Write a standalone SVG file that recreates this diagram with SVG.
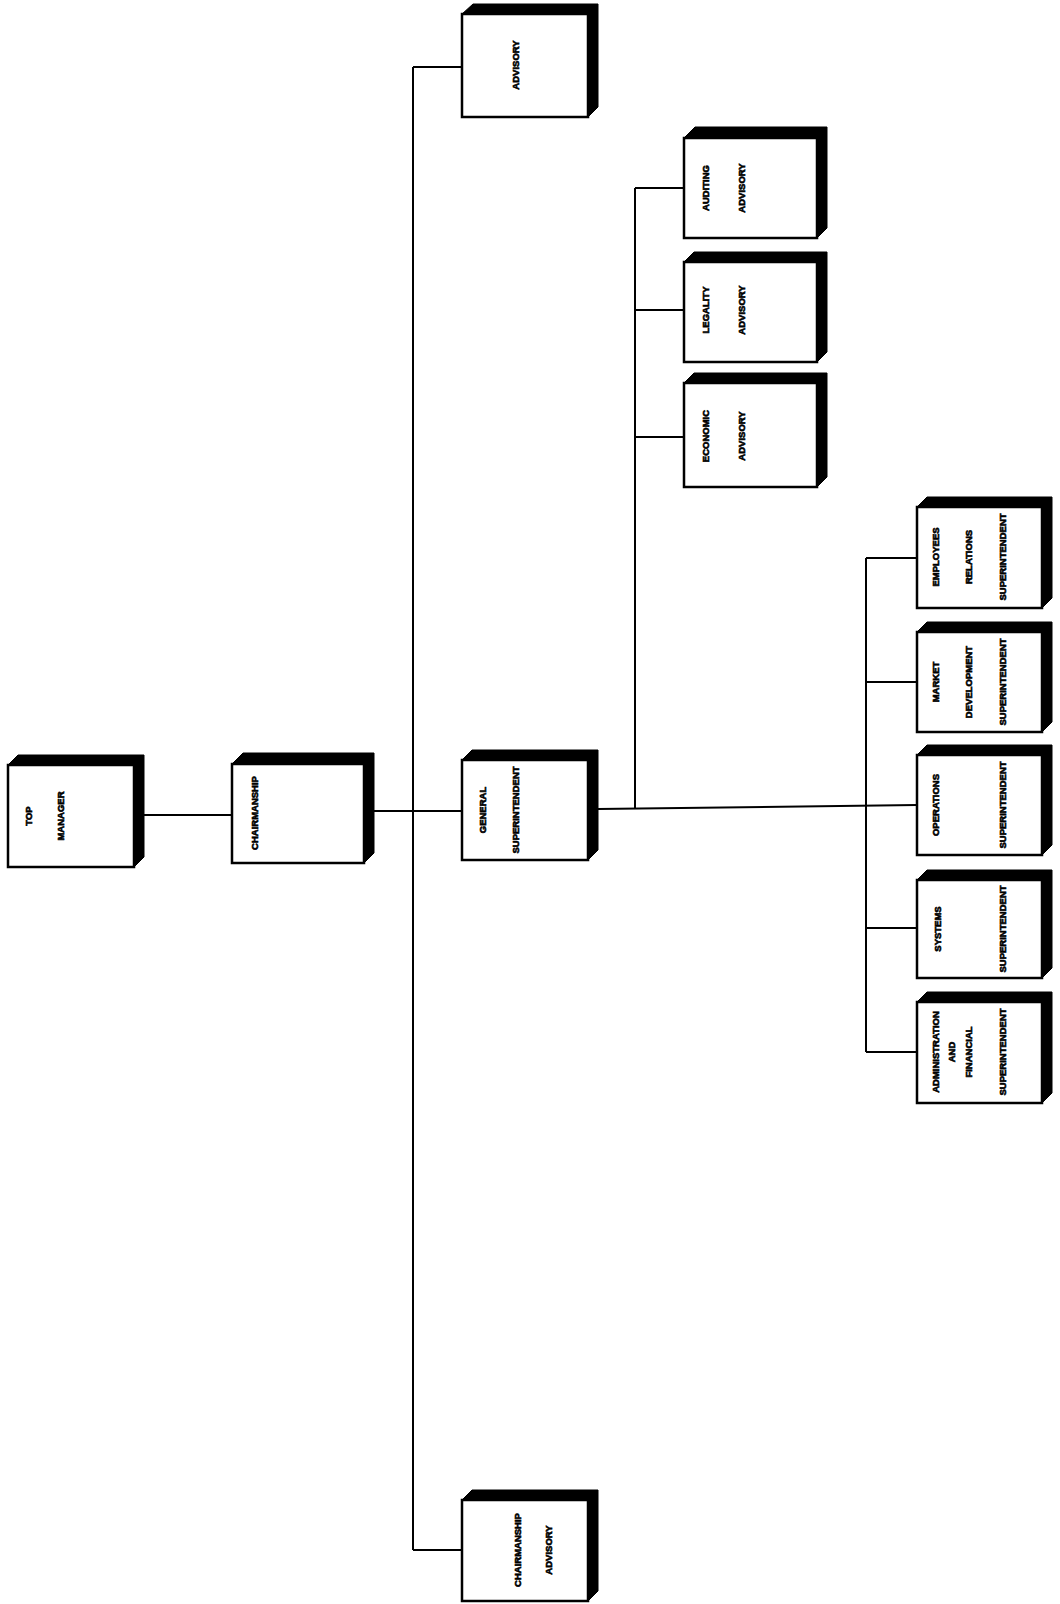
<svg xmlns="http://www.w3.org/2000/svg" width="1060" height="1604" viewBox="0 0 1060 1604">
<style>
.face{fill:#fff;stroke:#000;stroke-width:2.5}
.band{fill:#000;stroke:#000;stroke-width:1}
.t{font-family:"Liberation Sans",Arial,sans-serif;font-weight:bold;font-size:9.5px;fill:#000;stroke:#000;stroke-width:0.6;text-anchor:middle;dominant-baseline:central}
.c{stroke:#000;stroke-width:2;fill:none}
</style>
<rect width="1060" height="1604" fill="#fff"/>
<g id="connectors">
<line class="c" x1="144" y1="815" x2="232" y2="815"/>
<line class="c" x1="374" y1="811" x2="462" y2="811"/>
<line class="c" x1="413" y1="67" x2="413" y2="1550"/>
<line class="c" x1="413" y1="67" x2="462" y2="67"/>
<line class="c" x1="413" y1="1550" x2="462" y2="1550"/>
<line class="c" x1="598" y1="809" x2="917" y2="805"/>
<line class="c" x1="635" y1="188" x2="635" y2="808"/>
<line class="c" x1="635" y1="188" x2="684" y2="188"/>
<line class="c" x1="635" y1="310" x2="684" y2="310"/>
<line class="c" x1="635" y1="437" x2="684" y2="437"/>
<line class="c" x1="866" y1="558" x2="866" y2="1052"/>
<line class="c" x1="866" y1="558" x2="917" y2="558"/>
<line class="c" x1="866" y1="682" x2="917" y2="682"/>
<line class="c" x1="866" y1="928" x2="917" y2="928"/>
<line class="c" x1="866" y1="1052" x2="917" y2="1052"/>
</g>
<g id="top-manager">
<polygon class="band" points="8,765 18,755 144,755 144,857 134,867 134,765"/>
<rect class="face" x="8" y="765" width="126" height="102"/>
<text class="t" transform="translate(28,816) rotate(-90)">TOP</text>
<text class="t" transform="translate(60,816) rotate(-90)">MANAGER</text>
</g>
<g id="chairmanship">
<polygon class="band" points="232,764 243,753 374,753 374,853 364,863 364,764"/>
<rect class="face" x="232" y="764" width="132" height="99"/>
<text class="t" transform="translate(254,813) rotate(-90)">CHAIRMANSHIP</text>
</g>
<g id="general-superintendent">
<polygon class="band" points="462,760 472,750 598,750 598,850 588,860 588,760"/>
<rect class="face" x="462" y="760" width="126" height="100"/>
<text class="t" transform="translate(482,810) rotate(-90)">GENERAL</text>
<text class="t" transform="translate(515,810) rotate(-90)">SUPERINTENDENT</text>
</g>
<g id="advisory">
<polygon class="band" points="462,14 473,4 598,4 598,107 588,117 588,14"/>
<rect class="face" x="462" y="14" width="126" height="103"/>
<text class="t" transform="translate(515,65) rotate(-90)">ADVISORY</text>
</g>
<g id="chairmanship-advisory">
<polygon class="band" points="462,1500 472,1490 598,1490 598,1591 588,1601 588,1500"/>
<rect class="face" x="462" y="1500" width="126" height="101"/>
<text class="t" transform="translate(517,1550) rotate(-90)">CHAIRMANSHIP</text>
<text class="t" transform="translate(548,1550) rotate(-90)">ADVISORY</text>
</g>
<g id="auditing-advisory">
<polygon class="band" points="684,138 695,127 827,127 827,228 817,238 817,138"/>
<rect class="face" x="684" y="138" width="133" height="100"/>
<text class="t" transform="translate(705,188) rotate(-90)">AUDITING</text>
<text class="t" transform="translate(741,188) rotate(-90)">ADVISORY</text>
</g>
<g id="legality-advisory">
<polygon class="band" points="684,262 694,252 827,252 827,352 817,362 817,262"/>
<rect class="face" x="684" y="262" width="133" height="100"/>
<text class="t" transform="translate(705,310) rotate(-90)">LEGALITY</text>
<text class="t" transform="translate(741,310) rotate(-90)">ADVISORY</text>
</g>
<g id="economic-advisory">
<polygon class="band" points="684,383 694,373 827,373 827,477 817,487 817,383"/>
<rect class="face" x="684" y="383" width="133" height="104"/>
<text class="t" transform="translate(705,436) rotate(-90)">ECONOMIC</text>
<text class="t" transform="translate(741,436) rotate(-90)">ADVISORY</text>
</g>
<g id="employees-relations">
<polygon class="band" points="917,507 927,497 1052,497 1052,598 1042,608 1042,507"/>
<rect class="face" x="917" y="507" width="125" height="101"/>
<text class="t" transform="translate(935,557) rotate(-90)">EMPLOYEES</text>
<text class="t" transform="translate(968,557) rotate(-90)">RELATIONS</text>
<text class="t" transform="translate(1002,557) rotate(-90)">SUPERINTENDENT</text>
</g>
<g id="market-development">
<polygon class="band" points="917,632 927,622 1052,622 1052,722 1042,732 1042,632"/>
<rect class="face" x="917" y="632" width="125" height="100"/>
<text class="t" transform="translate(935,682) rotate(-90)">MARKET</text>
<text class="t" transform="translate(968,682) rotate(-90)">DEVELOPMENT</text>
<text class="t" transform="translate(1002,682) rotate(-90)">SUPERINTENDENT</text>
</g>
<g id="operations">
<polygon class="band" points="917,755 927,745 1052,745 1052,845 1042,855 1042,755"/>
<rect class="face" x="917" y="755" width="125" height="100"/>
<text class="t" transform="translate(935,805) rotate(-90)">OPERATIONS</text>
<text class="t" transform="translate(1002,805) rotate(-90)">SUPERINTENDENT</text>
</g>
<g id="systems">
<polygon class="band" points="917,880 927,870 1052,870 1052,968 1042,978 1042,880"/>
<rect class="face" x="917" y="880" width="125" height="98"/>
<text class="t" transform="translate(937,929) rotate(-90)">SYSTEMS</text>
<text class="t" transform="translate(1002,929) rotate(-90)">SUPERINTENDENT</text>
</g>
<g id="administration-financial">
<polygon class="band" points="917,1002 927,992 1052,992 1052,1093 1042,1103 1042,1002"/>
<rect class="face" x="917" y="1002" width="125" height="101"/>
<text class="t" transform="translate(935,1052) rotate(-90)">ADMINISTRATION</text>
<text class="t" transform="translate(951,1052) rotate(-90)">AND</text>
<text class="t" transform="translate(968,1052) rotate(-90)">FINANCIAL</text>
<text class="t" transform="translate(1002,1052) rotate(-90)">SUPERINTENDENT</text>
</g>
</svg>
